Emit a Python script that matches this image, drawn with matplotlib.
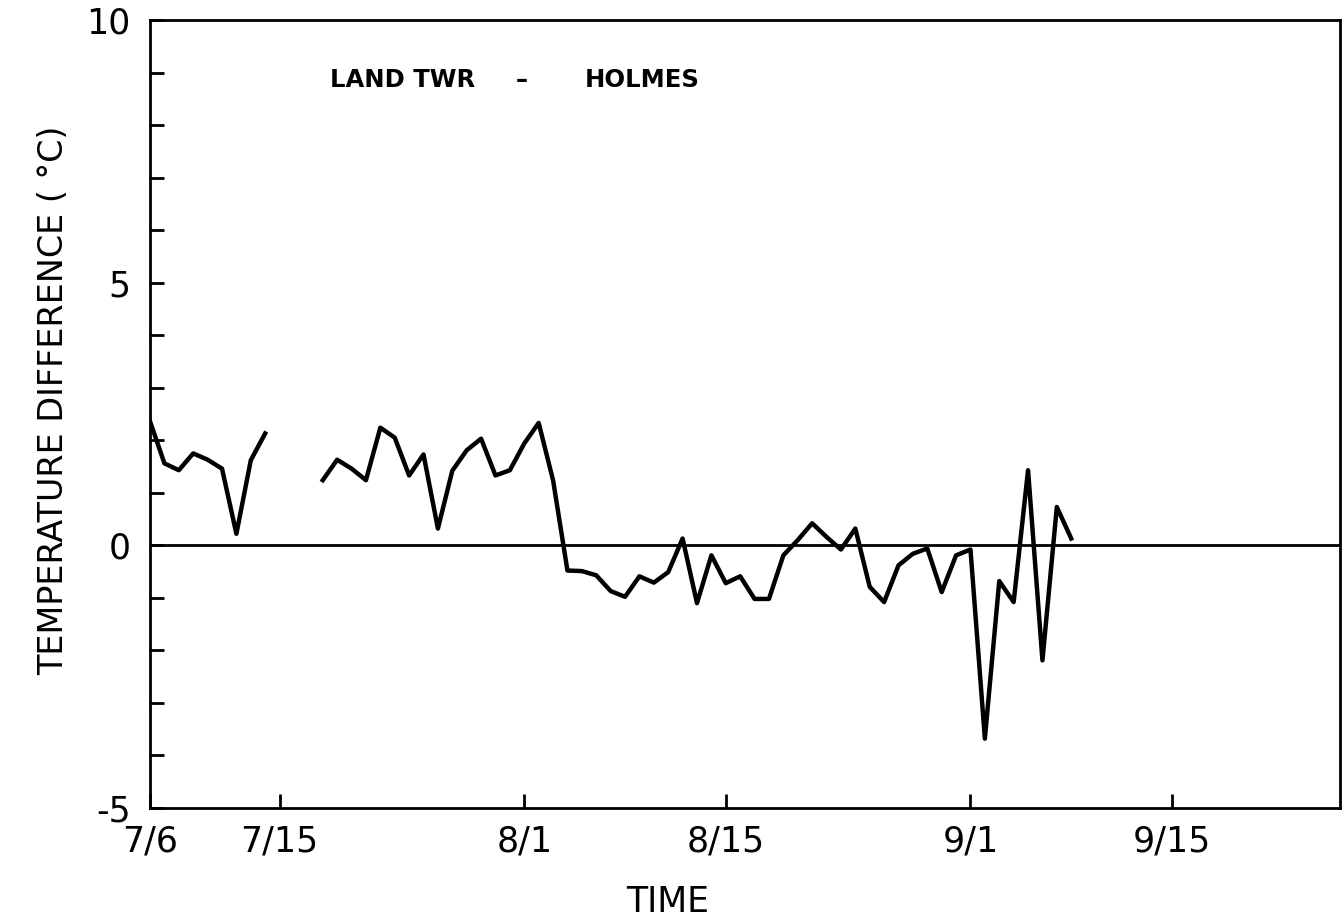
import numpy as np
import matplotlib.pyplot as plt

# days since 7/6, temperature difference (C)
days = list(range(0, 65))
temp_diff = [2.36, 1.56, 1.43, 1.75, 1.63, 1.46, 0.22, 1.62, 2.13,
             np.nan, np.nan, np.nan,
             1.24, 1.63, 1.46, 1.24, 2.24, 2.05, 1.33, 1.73, 0.32, 1.42,
             1.81, 2.03, 1.33, 1.43, 1.94, 2.33, 1.24, -0.48, -0.49, -0.57,
             -0.87, -0.98, -0.59, -0.71, -0.51, 0.13, -1.10, -0.19, -0.72,
             -0.59, -1.02, -1.02, -0.19, 0.10, 0.42, 0.16, -0.08, 0.32,
             -0.79, -1.08, -0.38, -0.16, -0.06, -0.89, -0.19, -0.08, -3.68,
             -0.68, -1.08, 1.43, -2.19, 0.73, 0.13]

tick_days = [0, 9, 26, 40, 57, 71]
tick_labels = ["7/6", "7/15", "8/1", "8/15", "9/1", "9/15"]

fig = plt.figure(figsize=(13.42, 9.23), dpi=100)
ax = fig.add_axes([0.1118, 0.1246, 0.887, 0.8537])

ax.plot(days, temp_diff, color="black", lw=3.2, solid_joinstyle="round")
ax.axhline(0, color="black", lw=2)

ax.set_xlim(0, 82.7)
ax.set_ylim(-5, 10)
ax.set_xticks(tick_days)
ax.set_xticklabels(tick_labels)
ax.set_yticks(range(-5, 11))
ax.set_yticklabels([str(v) if v % 5 == 0 else "" for v in range(-5, 11)])
ax.tick_params(direction="in", length=10, width=2, labelsize=25, pad=12)
ax.tick_params(axis="y", pad=14)
for s in ax.spines.values():
    s.set_linewidth(2)

ax.set_xlabel("TIME", fontsize=25)
ax.xaxis.set_label_coords(0.4346, -0.098)
ax.set_ylabel("TEMPERATURE DIFFERENCE ( \u00b0C)", fontsize=24)
ax.yaxis.set_label_coords(-0.067, 0.518)

ax.text(0.151, 0.924, "LAND TWR", transform=ax.transAxes,
        fontsize=17.5, fontweight="bold", ha="left", va="center")
ax.text(0.312, 0.924, "\u2013", transform=ax.transAxes,
        fontsize=17.5, fontweight="bold", ha="center", va="center")
ax.text(0.365, 0.924, "HOLMES", transform=ax.transAxes,
        fontsize=17.5, fontweight="bold", ha="left", va="center")

fig.savefig("out.png", dpi=100)
